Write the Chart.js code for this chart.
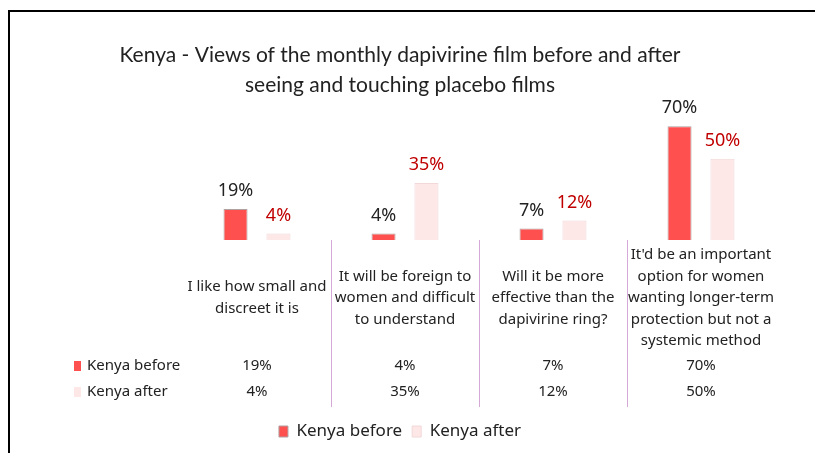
<!DOCTYPE html>
<html>
<head>
<meta charset="utf-8">
<script src="https://cdn.jsdelivr.net/npm/chart.js@4.4.1/dist/chart.umd.min.js"></script>
<style>
  html, body { margin: 0; padding: 0; background: #fff; }
  #wrap { width: 815px; height: 453px; }
</style>
</head>
<body>
<div id="wrap"><canvas id="myChart"></canvas></div>
<script>
const categories = [
    ["I like how small and", "discreet it is"],
    ["It will be foreign to", "women and difficult", "to understand"],
    ["Will it be more", "effective than the", "dapivirine ring?"],
    ["It'd be an important", "option for women", "wanting longer-term", "protection but not a", "systemic method"]
]
const seriesNames = ["Kenya before", "Kenya after"]
const kenyaBefore = [19, 4, 7, 70]
const kenyaAfter = [4, 35, 12, 50]

const labelFont = "'Noto Sans', sans-serif"
const beforeColor = '#FF5050'
const afterColor = '#FDE7E7'

// data labels above the bars, black for before and red for after
const barLabels = {
    id: 'barLabels',
    afterDatasetsDraw(chart) {
        const ctx = chart.ctx
        ctx.save()
        ctx.font = '18px ' + labelFont
        ctx.textAlign = 'center'
        ctx.textBaseline = 'bottom'
        chart.data.datasets.forEach((ds, i) => {
            ctx.fillStyle = i === 0 ? '#222' : '#C00000'
            chart.getDatasetMeta(i).data.forEach((bar, j) => {
                ctx.fillText(ds.data[j] + '%', bar.x, bar.y - 9)
            })
        })
        ctx.restore()
    }
}

// frame, column dividers and the data table under the axis
const dataTable = {
    id: 'dataTable',
    beforeDraw(chart) {
        const ctx = chart.ctx
        ctx.save()
        ctx.strokeStyle = '#000'
        ctx.lineWidth = 2
        ctx.beginPath()
        ctx.moveTo(9, chart.height)
        ctx.lineTo(9, 11)
        ctx.lineTo(chart.width, 11)
        ctx.stroke()
        ctx.restore()
    },
    afterDraw(chart) {
        const ctx = chart.ctx
        const x = chart.scales.x
        const bottom = chart.chartArea.bottom
        ctx.save()
        ctx.strokeStyle = '#D6A8D8'
        ctx.lineWidth = 1
        for (let i = 1; i < categories.length; i++) {
            const px = Math.round((x.getPixelForValue(i - 1) + x.getPixelForValue(i)) / 2) + 0.5
            ctx.beginPath()
            ctx.moveTo(px, bottom)
            ctx.lineTo(px, bottom + 167)
            ctx.stroke()
        }
        ctx.font = '15px ' + labelFont
        ctx.textBaseline = 'middle'
        chart.data.datasets.forEach((ds, i) => {
            const y = bottom + 126 + i * 26
            ctx.fillStyle = ds.backgroundColor
            ctx.fillRect(74, y - 5, 7, 10)
            ctx.fillStyle = '#222'
            ctx.textAlign = 'left'
            ctx.fillText(ds.label, 87, y)
            ctx.textAlign = 'center'
            ds.data.forEach((v, j) => {
                ctx.fillText(v + '%', x.getPixelForValue(j), y)
            })
        })
        ctx.restore()
    }
}

new Chart("myChart", {
    type: "bar",
    data: {
        labels: categories,
        datasets: [{
            label: seriesNames[0],
            data: kenyaBefore,
            backgroundColor: beforeColor,
            borderColor: '#B0A0A0',
            borderWidth: 1
        }, {
            label: seriesNames[1],
            data: kenyaAfter,
            backgroundColor: afterColor,
            borderColor: '#F2D8D8',
            borderWidth: 1
        }]
    },
    options: {
        responsive: true,
        maintainAspectRatio: false,
        animation: false,
        layout: {
            padding: { left: 25, right: 40, top: 0, bottom: 3 }
        },
        datasets: {
            bar: { categoryPercentage: 0.58, barPercentage: 0.56 }
        },
        scales: {
            y: {
                display: true,
                min: 0,
                max: 80,
                grid: { display: false },
                border: { display: false },
                ticks: { display: false },
                afterFit(scale) {
                    scale.width = 158
                }
            },
            x: {
                grid: { display: false },
                border: { display: false },
                ticks: {
                    color: '#222',
                    font: { family: labelFont, size: 15, lineHeight: 1.43 },
                    maxRotation: 0,
                    autoSkip: false,
                    crossAlign: 'center',
                    padding: 7
                },
                afterFit(scale) {
                    scale.height = 173
                }
            }
        },
        plugins: {
            title: {
                display: true,
                text: ["Kenya - Views of the monthly dapivirine film before and after", "seeing and touching placebo films"],
                color: '#222',
                font: { family: "Lato, sans-serif", size: 21, weight: 'normal', lineHeight: 1.45 },
                padding: { top: 40, bottom: 9 }
            },
            legend: {
                position: 'bottom',
                labels: {
                    color: '#222',
                    font: { family: labelFont, size: 17 },
                    boxWidth: 9,
                    boxHeight: 11,
                    padding: 10
                }
            },
            tooltip: { enabled: false }
        }
    },
    plugins: [barLabels, dataTable]
});
</script>
</body>
</html>
